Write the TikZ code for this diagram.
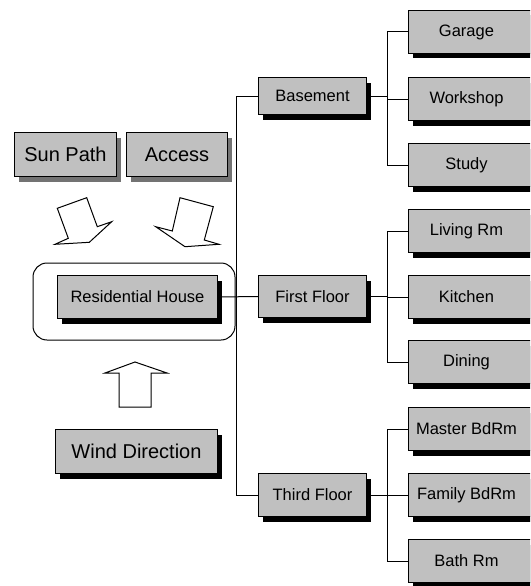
\documentclass[tikz,border=0pt]{standalone}
\usepackage{fontspec}
\setmainfont{Liberation Sans}
\usetikzlibrary{shadows}
\definecolor{boxgray}{HTML}{C0C0C0}
\begin{document}
\begin{tikzpicture}[x=1pt,y=-1pt,
  line width=1pt,
  box/.style={draw=black, fill=boxgray, inner sep=0pt, anchor=north west,
    font=\fontsize{16.5}{18}\selectfont,
    drop shadow={shadow xshift=4pt, shadow yshift=-5pt, fill=black, opacity=1}},
  dotbox/.style={draw=black, fill=boxgray, inner sep=0pt, anchor=north west,
    font=\fontsize{20}{22}\selectfont,
    drop shadow={shadow xshift=4pt, shadow yshift=-5pt, fill=black!55, opacity=1}},
  bigbox/.style={box, font=\fontsize{20}{22}\selectfont},
  housebox/.style={box, font=\fontsize{16.5}{18}\selectfont},
  room/.style={box, minimum width=126pt, minimum height=43pt},
  floor/.style={box, minimum width=108pt},
  blockarrow/.style={draw=black, fill=white, line width=1pt, line join=miter},
  wire/.style={draw=black, line width=1pt}]
\useasboundingbox (0,0) rectangle (530,586);
\clip (0,0) rectangle (530,586);

% left column: influences acting on the house
\node[dotbox, minimum width=102pt, minimum height=44pt] (sun) at (14,132) {Sun Path};
\node[dotbox, minimum width=101pt, minimum height=44pt] (access) at (126,132) {Access};
\draw[rounded corners=14pt] (33,263) rectangle (235,340);
\node[housebox, minimum width=160pt, minimum height=43pt] (house) at (57,275) {Residential House};
\node[bigbox, minimum width=162pt, minimum height=44pt] (wind) at (55,429) {Wind Direction};

% hollow block arrows
\draw[blockarrow] (57.3,208.3) -- (86.7,197.7) -- (97.3,226.7) -- (111.7,221.7)
  -- (89.3,242.3) -- (55,244.3) -- (68.3,238.3) -- cycle;
\draw[blockarrow] (180,197.7) -- (213.3,206.7) -- (204.3,240) -- (219,244.3)
  -- (185,246.7) -- (155.7,226.7) -- (172.3,231) -- cycle;
\draw[blockarrow] (119,407) -- (119,373) -- (105,373) -- (135,362) -- (167,373)
  -- (151,373) -- (151,407) -- cycle;

% floors
\node[floor, minimum height=37pt] (basement) at (258,77) {Basement};
\node[floor, minimum height=42pt] (first) at (258,275) {First Floor};
\node[floor, minimum height=43pt] (third) at (258,473) {Third Floor};

% rooms
\node[room] (garage)   at (408,10)  {\hspace*{-10pt}Garage};
\node[room] (workshop) at (408,77)  {\hspace*{-10pt}Workshop};
\node[room] (study)    at (408,143) {\hspace*{-10pt}Study};
\node[room] (living)   at (408,209) {\hspace*{-10pt}Living Rm};
\node[room] (kitchen)  at (408,275) {\hspace*{-10pt}Kitchen};
\node[room] (dining)   at (408,340) {\hspace*{-10pt}Dining};
\node[room] (master)   at (408,407) {\hspace*{-10pt}Master BdRm};
\node[room] (family)   at (408,473) {\hspace*{-10pt}Family BdRm};
\node[room] (bath)     at (408,539) {\hspace*{-10pt}Bath Rm};

% connectors
\coordinate (spine) at (236,0);
\coordinate (branch) at (387,0);
\draw[wire] (basement.west) -- (basement.west -| spine) -- (third.west -| spine) -- (third.west);
\draw[wire] (house.east) -- (first.west);

\draw[wire] (basement.east) -- (basement.east -| branch);
\draw[wire] (garage.west) -- (garage.west -| branch) -- (study.west -| branch) -- (study.west);
\draw[wire] (workshop.west) -- (workshop.west -| branch);

\draw[wire] (first.east) -- (first.east -| branch);
\draw[wire] (living.west) -- (living.west -| branch) -- (dining.west -| branch) -- (dining.west);
\draw[wire] (kitchen.west) -- (kitchen.west -| branch);

\draw[wire] (third.east) -- (third.east -| branch);
\draw[wire] (master.west) -- (master.west -| branch) -- (bath.west -| branch) -- (bath.west);
\draw[wire] (family.west) -- (family.west -| branch);
\end{tikzpicture}
\end{document}
